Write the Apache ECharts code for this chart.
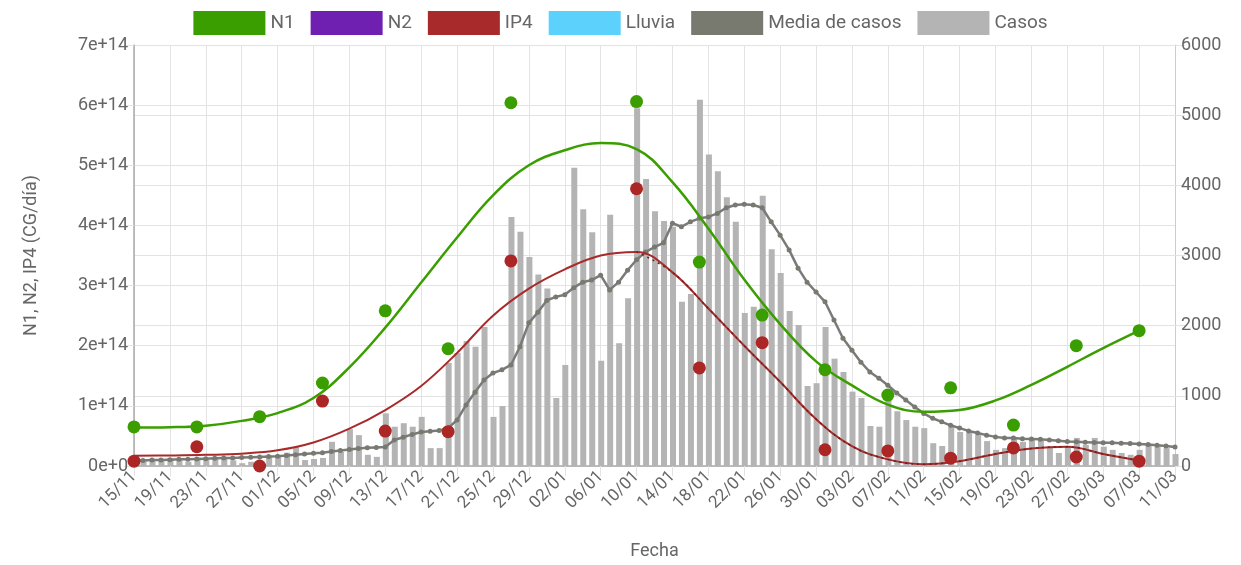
<!DOCTYPE html>
<html>
<head>
<meta charset="utf-8">
<script src="https://cdn.jsdelivr.net/npm/echarts@6/dist/echarts.min.js"></script>
<style>
  html, body { margin: 0; padding: 0; background: #fff; }
  #chart { width: 1241px; height: 565px; }
</style>
</head>
<body>
<div id="chart"></div>
<script>
// fechas diarias 15/11 .. 11/03
var fechas = [];
(function () {
    var d0 = Date.UTC(2020, 10, 15);
    for (var i = 0; i < 117; i++) {
        var d = new Date(d0 + i * 86400000);
        var dd = ('0' + d.getUTCDate()).slice(-2);
        var mm = ('0' + (d.getUTCMonth() + 1)).slice(-2);
        fechas.push(dd + '/' + mm);
    }
})();

var leftTicks = ['0e+0', '1e+14', '2e+14', '3e+14', '4e+14', '5e+14', '6e+14', '7e+14'];

// casos diarios
var casos = [90, 80, 100, 70, 110, 90, 60, 120, 85, 115, 100, 80, 40, 60, 75,
    130, 140, 190, 270, 85, 100, 115, 345, 200, 525, 440, 160, 130, 750, 560,
    610, 560, 700, 255, 255, 1470, 1610, 1780, 1700, 1980, 700, 855, 3550, 3340, 2980,
    2730, 2530, 970, 1440, 4250, 3660, 3330, 1500, 3580, 1750, 2390, 5100, 4090, 3630, 3490,
    3410, 2340, 2450, 5220, 4440, 4200, 3830, 3480, 2180, 2270, 3850, 3090, 2750, 2210, 2010,
    1140, 1180, 1980, 1530, 1340, 1060, 970, 570, 560, 1040, 780, 655, 560, 540, 325,
    285, 560, 485, 470, 440, 355, 230, 255, 415, 345, 400, 370, 275, 185, 275,
    400, 300, 400, 275, 230, 185, 160, 230, 300, 275, 255, 170];

// media de casos
var mediaCasos = [75, 80, 85, 85, 90, 95, 95, 100, 105, 110, 115, 115, 120, 125, 130,
    135, 140, 150, 160, 170, 180, 190, 205, 220, 235, 250, 260, 265, 270, 370,
    410, 450, 485, 495, 505, 540, 655, 870, 1050, 1225, 1325, 1370, 1440, 1700, 2040,
    2190, 2360, 2410, 2440, 2540, 2620, 2650, 2720, 2510, 2620, 2790, 2940, 3050, 3120, 3180,
    3460, 3410, 3480, 3530, 3550, 3600, 3680, 3720, 3730, 3720, 3680, 3480, 3290, 3080, 2820,
    2620, 2480, 2340, 2080, 1820, 1650, 1480, 1340, 1250, 1150, 1040, 940, 840, 750, 680,
    630, 580, 540, 500, 470, 440, 415, 400, 400, 390, 385, 380, 370, 360, 350,
    345, 340, 335, 330, 330, 325, 320, 315, 305, 295, 285, 270];

// muestras semanales (indice de dia)
var diasMuestra = [0, 7, 14, 21, 28, 35, 42, 56, 63, 70, 77, 84, 91, 98, 105, 112];
var n1Muestra = [0.65e14, 0.65e14, 0.82e14, 1.38e14, 2.58e14, 1.95e14, 6.04e14, 6.06e14,
    3.39e14, 2.51e14, 1.6e14, 1.18e14, 1.3e14, 0.68e14, 2.0e14, 2.25e14];
var ip4Muestra = [0.08e14, 0.32e14, 0.0e14, 1.08e14, 0.58e14, 0.57e14, 3.41e14, 4.61e14,
    1.63e14, 2.05e14, 0.27e14, 0.25e14, 0.13e14, 0.3e14, 0.15e14, 0.08e14];

// curvas de ajuste (cada 4 dias, en 1e14)
var ajusteDias = [0, 4, 8, 12, 16, 20, 24, 28, 32, 36, 40, 44, 48, 52, 56, 60, 64, 68, 72, 76, 80, 84, 88, 92, 96, 100, 104, 108, 112];
var n1Ajuste = [0.64, 0.645, 0.67, 0.75, 0.88, 1.13, 1.64, 2.3, 3.05, 3.8, 4.5, 5.0, 5.25, 5.37, 5.27, 4.72, 3.95, 3.1, 2.36, 1.74, 1.34, 1.02, 0.9, 0.93, 1.09, 1.35, 1.65, 1.96, 2.25];
var ip4Ajuste = [0.17, 0.175, 0.185, 0.205, 0.26, 0.39, 0.62, 0.93, 1.33, 1.88, 2.5, 2.95, 3.27, 3.5, 3.56, 3.22, 2.62, 2.0, 1.4, 0.78, 0.33, 0.11, 0.03, 0.08, 0.2, 0.29, 0.32, 0.2, 0.09];

function pares(dias, vals, escala) {
    var res = [];
    for (var i = 0; i < dias.length; i++) res.push([dias[i], vals[i] * escala]);
    return res;
}

var dom = document.getElementById('chart');
var myChart = echarts.init(dom);
var fuente = 'Roboto, "Liberation Sans", Arial, sans-serif';
var gridColor = '#e3e3e3';

var option = {
    animation: false,
    textStyle: { fontFamily: fuente },
    legend: {
        data: ['N1', 'N2', 'IP4', 'Lluvia', 'Media de casos', 'Casos'],
        top: 6,
        left: 'center',
        icon: 'rect',
        itemWidth: 72,
        itemHeight: 24,
        itemGap: 16,
        textStyle: { fontSize: 19, color: '#666', fontFamily: fuente }
    },
    grid: { left: 134, right: 66, top: 45, bottom: 99 },
    xAxis: {
        type: 'category',
        data: fechas,
        boundaryGap: false,
        name: 'Fecha',
        nameLocation: 'middle',
        nameGap: 76,
        nameTextStyle: { fontSize: 18, color: '#666' },
        axisLine: { lineStyle: { color: '#aaa', width: 1.5 } },
        axisTick: { show: true, interval: 3, length: 10, lineStyle: { color: gridColor } },
        axisLabel: { interval: 3, rotate: 45, fontSize: 17, color: '#666', margin: 8 },
        splitLine: { show: true, interval: 3, lineStyle: { color: gridColor } }
    },
    yAxis: [
        {
            type: 'value',
            min: 0, max: 7e14, interval: 1e14,
            name: 'N1, N2, IP4 (CG/día)',
            nameLocation: 'middle',
            nameGap: 94,
            nameTextStyle: { fontSize: 18, color: '#666' },
            axisLine: { show: true, lineStyle: { color: '#aaa', width: 1.5 } },
            axisTick: { show: true, length: 10, lineStyle: { color: gridColor } },
            axisLabel: {
                fontSize: 18, color: '#666', margin: 6,
                formatter: function (v, i) { return leftTicks[i]; }
            },
            splitLine: { show: true, lineStyle: { color: gridColor } }
        },
        {
            type: 'value',
            min: 0, max: 6000, interval: 1000,
            axisLine: { show: true, lineStyle: { color: '#ccc' } },
            axisTick: { show: true, length: 10, lineStyle: { color: gridColor } },
            axisLabel: {
                fontSize: 18, color: '#666', margin: 6,
                formatter: function (v) { return String(v); }
            },
            splitLine: { show: true, lineStyle: { color: gridColor } }
        }
    ],
    series: [
        {
            name: 'N1',
            type: 'line',
            smooth: 0.4,
            showSymbol: false,
            data: pares(ajusteDias, n1Ajuste, 1e14),
            color: '#3a9e00',
            lineStyle: { width: 2.5 },
            z: 4
        },
        {
            name: 'N2',
            type: 'line',
            data: [],
            color: '#7020b0'
        },
        {
            name: 'IP4',
            type: 'line',
            smooth: 0.4,
            showSymbol: false,
            data: pares(ajusteDias, ip4Ajuste, 1e14),
            color: '#a82a2a',
            lineStyle: { width: 2 },
            z: 4
        },
        {
            name: 'IP4',
            type: 'line',
            smooth: 0.4,
            showSymbol: false,
            data: pares(ajusteDias.slice(14), ip4Ajuste.slice(14), 1e14),
            color: '#6a2020',
            lineStyle: { width: 1.5, type: [2, 4] },
            z: 5
        },
        {
            name: 'Lluvia',
            type: 'bar',
            data: [],
            color: '#5bd1fb'
        },
        {
            name: 'Media de casos',
            type: 'line',
            yAxisIndex: 1,
            data: mediaCasos,
            color: '#76786e',
            symbol: 'circle',
            symbolSize: 5,
            itemStyle: { color: '#78796f' },
            lineStyle: { width: 2.5, color: '#7a7a7a' },
            z: 3
        },
        {
            name: 'Casos',
            type: 'bar',
            yAxisIndex: 1,
            data: casos,
            color: '#b4b4b4',
            barWidth: 6,
            z: 2
        },
        {
            name: 'N1',
            type: 'scatter',
            data: pares(diasMuestra, n1Muestra, 1),
            symbolSize: 13,
            color: '#3a9e00',
            itemStyle: { opacity: 1 },
            z: 6
        },
        {
            name: 'IP4',
            type: 'scatter',
            data: pares(diasMuestra, ip4Muestra, 1),
            symbolSize: 13,
            color: '#ad2626',
            itemStyle: { opacity: 1 },
            z: 6
        }
    ]
};

if (option && typeof option === "object") {
    myChart.setOption(option, true);
}
</script>
</body>
</html>
